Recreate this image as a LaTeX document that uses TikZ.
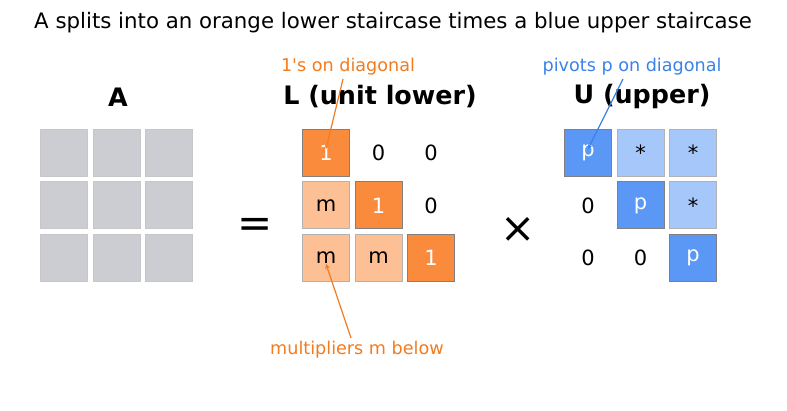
\documentclass[tikz,border=0pt]{standalone}
\usepackage{fontspec}
\setmainfont{DejaVu Sans}
\usetikzlibrary{arrows,positioning}

\definecolor{gcell}{HTML}{CBCDD3}
\definecolor{odark}{HTML}{FA8A3C}
\definecolor{olight}{HTML}{FDBF94}
\definecolor{bdark}{HTML}{5B97F5}
\definecolor{blight}{HTML}{A6C7F9}
\definecolor{otext}{HTML}{F27B1E}
\definecolor{btext}{HTML}{3A82E6}

\begin{document}
\begin{tikzpicture}[
x=1pt,y=-1pt,
cell/.style={draw=black!30,line width=1pt,minimum size=47pt,inner sep=0pt,font=\fontsize{21}{24}\selectfont},
gray/.style={cell,fill=gcell,draw=black!22},
diag/.style={cell,fill=odark,draw=black!50,text=white},
low/.style={cell,fill=olight},
piv/.style={cell,fill=bdark,draw=black!50,text=white},
upp/.style={cell,fill=blight},
zero/.style={cell,draw=none},
head/.style={font=\fontsize{25.4}{28}\selectfont\bfseries},
note/.style={font=\fontsize{17.6}{20}\selectfont},
]
\useasboundingbox (0,0) rectangle (787,411);

\node[font=\fontsize{21.3}{24}\selectfont] (title) at (393,23) {A splits into an orange lower staircase times a blue upper staircase};

% headings
\node[head] (hA) at (118,97) {A};
\node[head] (hL) at (380,97) {L (unit lower)};
\node[head] (hU) at (642,97) {U (upper)};

% A
\foreach \i in {1,2,3}
	\foreach \j in {1,2,3}
		\node[gray] (A\i\j) at ({64+52.5*(\j-1)},{153+52.5*(\i-1)}) {};

\node[font=\fontsize{42}{42}\selectfont] (eq) at (255,228) {=};

% L
\node[diag] (L11) at (326,153) {1};
\node[zero] (L12) at (378.5,153) {0};
\node[zero] (L13) at (431,153) {0};
\node[low] (L21) at (326,205.5) {m};
\node[diag] (L22) at (378.5,205.5) {1};
\node[zero] (L23) at (431,205.5) {0};
\node[low] (L31) at (326,258) {m};
\node[low] (L32) at (378.5,258) {m};
\node[diag] (L33) at (431,258) {1};

\node[font=\fontsize{42}{42}\selectfont] (times) at (518,230) {×};

% U
\node[piv] (U11) at (588,153) {p};
\node[upp] (U12) at (640.5,153) {*};
\node[upp] (U13) at (693,153) {*};
\node[zero] (U21) at (588,205.5) {0};
\node[piv] (U22) at (640.5,205.5) {p};
\node[upp] (U23) at (693,205.5) {*};
\node[zero] (U31) at (588,258) {0};
\node[zero] (U32) at (640.5,258) {0};
\node[piv] (U33) at (693,258) {p};

% notes
\node[note,text=otext] (n1) at (348,67) {1\textquotesingle s on diagonal};
\node[note,text=btext] (n2) at (632,67) {pivots p on diagonal};
\node[note,text=otext] (n3) at (357,350) {multipliers m below};

\draw[->,>=stealth,otext,line width=1.2pt] ([xshift=-5pt]n1.south) -- ([yshift=4pt]L11.center);
\draw[->,>=stealth,btext,line width=1.2pt] ([xshift=-9pt]n2.south) -- ([yshift=4pt]U11.center);
\draw[->,>=stealth,otext,line width=1.2pt] ([xshift=-6pt]n3.north) -- ([yshift=-6pt]L31.center);
\end{tikzpicture}
\end{document}
